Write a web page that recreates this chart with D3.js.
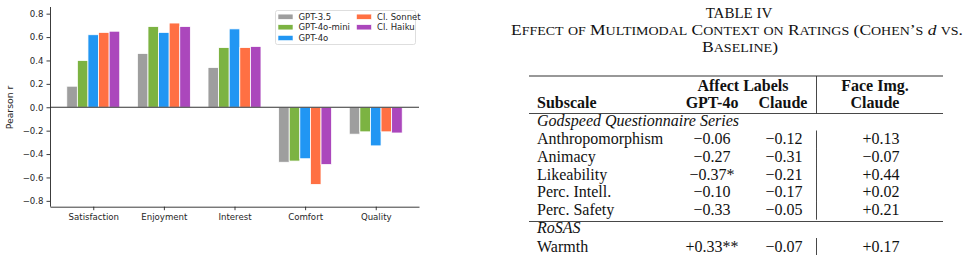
<!DOCTYPE html>
<html>
<head>
<meta charset="utf-8">
<script src="https://cdn.jsdelivr.net/npm/d3@7"></script>
<style>
  body { margin: 0; background: #fff; }
  svg { display: block; }
</style>
</head>
<body>
<div id="vis"></div>
<script>
// ---- chart data ----
const categories = ['Satisfaction', 'Enjoyment', 'Interest', 'Comfort', 'Quality'];
const models = ['GPT-3.5', 'GPT-4o-mini', 'GPT-4o', 'Cl. Sonnet', 'Cl. Haiku'];
const colors = ['#9e9e9e', '#7cb342', '#2196f3', '#ff7043', '#ab47bc'];
const gpt35 = [0.18, 0.46, 0.34, -0.47, -0.23];
const gpt4oMini = [0.40, 0.69, 0.51, -0.46, -0.21];
const gpt4o = [0.62, 0.64, 0.67, -0.44, -0.33];
const clSonnet = [0.64, 0.72, 0.51, -0.66, -0.21];
const clHaiku = [0.65, 0.69, 0.52, -0.49, -0.22];
const yTicks = [-0.8, -0.6, -0.4, -0.2, 0.0, 0.2, 0.4, 0.6, 0.8];

// ---- table data ----
const subscales = ['Anthropomorphism', 'Animacy', 'Likeability', 'Perc. Intell.', 'Perc. Safety', 'Warmth'];
const groups = ['Godspeed Questionnaire Series', 'RoSAS'];
const affectGpt = [-0.06, -0.27, -0.37, -0.10, -0.33, 0.33];
const affectGptSig = ['', '', '*', '', '', '**'];
const affectClaude = [-0.12, -0.31, -0.21, -0.17, -0.05, -0.07];
const faceClaude = [0.13, -0.07, 0.44, 0.02, 0.21, 0.17];

const svg = d3.select('#vis').append('svg')
    .attr('width', 968)
    .attr('height', 255);

// ================= bar chart =================
const series = [gpt35, gpt4oMini, gpt4o, clSonnet, clHaiku];
const barW = 0.15;
const x = d3.scaleLinear().domain([-0.6125, 4.6125]).range([50, 419]);
const y = d3.scaleLinear().domain([-0.85, 0.857]).range([206.7, 7]);

const chart = svg.append('g').attr('font-family', 'DejaVu Sans, sans-serif');

series.forEach(function (vals, j) {
  chart.append('g').selectAll('rect')
      .data(vals)
      .join('rect')
      .attr('x', (d, i) => x(i + (j - 2) * barW - barW / 2))
      .attr('width', x(barW) - x(0))
      .attr('y', d => y(Math.max(0, d)))
      .attr('height', d => Math.abs(y(d) - y(0)))
      .attr('fill', colors[j])
      .attr('stroke', '#fff')
      .attr('stroke-width', 0.8);
});

// zero line
chart.append('line')
    .attr('x1', x.range()[0]).attr('x2', x.range()[1])
    .attr('y1', y(0)).attr('y2', y(0))
    .attr('stroke', '#333')
    .attr('stroke-width', 1);

const fmtY = d3.format('.1f');
const yAxis = chart.append('g')
    .attr('transform', 'translate(' + x.range()[0] + ',0)')
    .call(d3.axisLeft(y).tickValues(yTicks).tickFormat(fmtY).tickSize(3.5).tickPadding(3).tickSizeOuter(0));
yAxis.select('.domain').attr('d', 'M0.5,' + y.range()[1] + 'V' + y.range()[0]);

chart.append('g')
    .attr('transform', 'translate(0,' + y.range()[0] + ')')
    .call(d3.axisBottom(x).tickValues(d3.range(categories.length)).tickFormat(i => categories[i]).tickSize(3.5).tickPadding(4).tickSizeOuter(0));

chart.selectAll('.tick text')
    .attr('font-size', 8.6)
    .attr('font-family', 'DejaVu Sans, sans-serif')
    .attr('fill', '#262626');
chart.selectAll('.domain, .tick line').attr('stroke', '#262626').attr('stroke-width', 0.9);

chart.append('text')
    .attr('transform', 'translate(13,107.5) rotate(-90)')
    .attr('text-anchor', 'middle')
    .attr('font-size', 9.3)
    .attr('fill', '#262626')
    .text('Pearson r');

// legend
const legend = chart.append('g');
legend.append('rect')
    .attr('x', 275.5).attr('y', 10.5)
    .attr('width', 140).attr('height', 34)
    .attr('rx', 2)
    .attr('fill', '#fff')
    .attr('fill-opacity', 0.8)
    .attr('stroke', '#d6d6d6')
    .attr('stroke-width', 0.8);

const legendPos = [[278, 16.7], [278, 27.3], [278, 38], [356.5, 16.7], [356.5, 27.3]];
models.forEach(function (m, j) {
  const p = legendPos[j];
  legend.append('rect')
      .attr('x', p[0]).attr('y', p[1] - 2.6)
      .attr('width', 15).attr('height', 5.2)
      .attr('fill', colors[j])
      .attr('stroke', '#fff')
      .attr('stroke-width', 0.6);
  legend.append('text')
      .attr('x', p[0] + 20.5).attr('y', p[1])
      .attr('dy', '0.35em')
      .attr('font-size', 8.5)
      .attr('fill', '#262626')
      .text(m);
});

// ================= table =================
const table = svg.append('g')
    .attr('font-family', 'Liberation Serif, Times New Roman, serif')
    .attr('fill', '#111');

const capSize = 15;

// small caps by hand: capitals at full size, lower-case letters as smaller capitals
function smallCaps(sel, str, size) {
  const runs = [];
  for (const ch of str) {
    const lower = ch !== ch.toUpperCase();
    const last = runs[runs.length - 1];
    if (last && last.lower === lower) last.s += ch;
    else runs.push({lower: lower, s: ch});
  }
  runs.forEach(function (r) {
    sel.append('tspan')
        .attr('font-size', r.lower ? size * 0.8 : size)
        .text(r.lower ? r.s.toUpperCase() : r.s);
  });
}

table.append('text')
    .attr('x', 739).attr('y', 18)
    .attr('text-anchor', 'middle')
    .attr('font-size', capSize)
    .text('TABLE IV');

// real small caps are wider than scaled capitals, so stretch the lines to the measured width
const cap2 = table.append('text')
    .attr('x', 737).attr('y', 35)
    .attr('text-anchor', 'middle')
    .attr('textLength', 452)
    .attr('lengthAdjust', 'spacingAndGlyphs');
smallCaps(cap2, 'Effect of Multimodal Context on Ratings (Cohen\u2019s ', capSize);
cap2.append('tspan').attr('font-size', capSize).attr('font-style', 'italic').text('d');
smallCaps(cap2, ' vs.', capSize);

const cap3 = table.append('text')
    .attr('x', 740).attr('y', 52)
    .attr('text-anchor', 'middle')
    .attr('textLength', 76)
    .attr('lengthAdjust', 'spacingAndGlyphs');
smallCaps(cap3, 'Baseline)', capSize);

const fs = 16;
const colX = {left: 537, gpt: 712, claude: 784, face: 881};
const ruleL = 529, ruleR = 943, vX = 816.5;

function rule(yy, w) {
  table.append('line')
      .attr('x1', ruleL).attr('x2', ruleR)
      .attr('y1', yy).attr('y2', yy)
      .attr('stroke', '#333')
      .attr('stroke-width', w);
}

rule(76, 1.2);
rule(113.5, 0.9);
rule(221.5, 0.9);

// header vertical line
table.append('line')
    .attr('x1', vX).attr('x2', vX)
    .attr('y1', 76).attr('y2', 113.5)
    .attr('stroke', '#333').attr('stroke-width', 0.9);

const header = table.append('g').attr('font-weight', 'bold').attr('font-size', fs);
header.append('text').attr('x', 743).attr('y', 91).attr('text-anchor', 'middle').text('Affect Labels');
header.append('text').attr('x', 875).attr('y', 91).attr('text-anchor', 'middle').text('Face Img.');
header.append('text').attr('x', colX.left).attr('y', 108).text('Subscale');
header.append('text').attr('x', colX.gpt).attr('y', 108).attr('text-anchor', 'middle').text('GPT-4o');
header.append('text').attr('x', 783).attr('y', 108).attr('text-anchor', 'middle').text('Claude');
header.append('text').attr('x', 875).attr('y', 108).attr('text-anchor', 'middle').text('Claude');

const fmt = d3.format('+.2f');
const groupBase = [126, 233];
const rowBase = [144, 161.7, 179.5, 197.4, 215.2, 251.5];

groups.forEach(function (g, k) {
  table.append('text')
      .attr('x', colX.left).attr('y', groupBase[k])
      .attr('font-size', fs)
      .attr('font-style', 'italic')
      .text(g);
});

subscales.forEach(function (s, i) {
  const yy = rowBase[i];
  table.append('text').attr('x', colX.left).attr('y', yy).attr('font-size', fs).text(s);
  table.append('text').attr('x', colX.gpt).attr('y', yy).attr('font-size', fs)
      .attr('text-anchor', 'middle').text(fmt(affectGpt[i]) + affectGptSig[i]);
  table.append('text').attr('x', colX.claude).attr('y', yy).attr('font-size', fs)
      .attr('text-anchor', 'middle').text(fmt(affectClaude[i]));
  table.append('text').attr('x', colX.face).attr('y', yy).attr('font-size', fs)
      .attr('text-anchor', 'middle').text(fmt(faceClaude[i]));
  // column separator for each body row
  table.append('line')
      .attr('x1', vX).attr('x2', vX)
      .attr('y1', yy - 13.5).attr('y2', yy + 4.5)
      .attr('stroke', '#333').attr('stroke-width', 0.9);
});
</script>
</body>
</html>
